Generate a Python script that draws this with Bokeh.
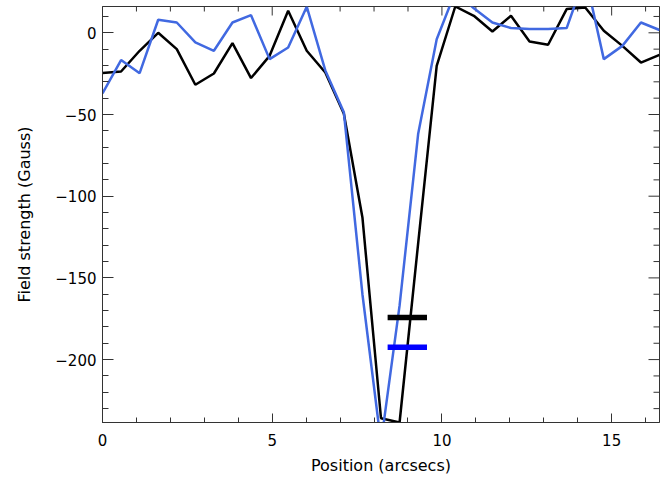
import math
from bokeh.plotting import figure
from bokeh.models import LinearAxis, SingleIntervalTicker, Range1d, ColumnDataSource
from bokeh.embed import file_html
from bokeh.resources import INLINE

# Position (arcsecs) of each sample
position = [0.0, 0.547, 1.094, 1.641, 2.188, 2.735, 3.282, 3.829, 4.376, 4.923,
            5.47, 6.017, 6.564, 7.111, 7.658, 8.205, 8.752, 9.299, 9.846, 10.393,
            10.94, 11.487, 12.034, 12.581, 13.128, 13.675, 14.222, 14.769, 15.316,
            15.863, 16.41]

# Field strength (Gauss), black profile
field_black = [-24.6, -23.7, -11.0, 0.0, -10.0, -31.8, -24.9, -6.3, -27.7, -14.1,
               13.5, -11.0, -24.3, -49.5, -113.0, -235.9, -238.5, -129.0, -20.2, 16.1,
               10.4, 0.8, 10.4, -5.3, -7.3, 14.5, 15.5, 1.2, -8.0, -18.2, -13.5]

# Field strength (Gauss), blue profile
field_blue = [-37.1, -16.7, -24.7, 8.0, 6.3, -5.9, -11.0, 6.3, 10.8, -16.1,
              -9.0, 16.0, -23.0, -48.7, -160.0, -251.0, -167.0, -62.0, -3.9, 25.0,
              15.0, 6.3, 2.9, 2.4, 2.4, 2.9, 35.0, -16.1, -8.0, 6.3, 1.7]

# Horizontal level markers
marker_x0 = [8.40, 8.40]
marker_x1 = [9.56, 9.56]
marker_y = [-174.3, -192.5]
marker_color = ["#000000", "#0000ff"]

x_min, x_max = 0.0, 16.41
y_min, y_max = -238.5, 16.1

# tick positions (for the unlabeled top / right tick marks)
x_major_ticks = [0, 5, 10, 15]
x_minor_ticks = [1, 2, 3, 4, 6, 7, 8, 9, 11, 12, 13, 14, 16]
y_major_ticks = [0, -50, -100, -150, -200]
y_minor_ticks = [10, -10, -20, -30, -40, -60, -70, -80, -90, -110, -120, -130, -140,
                 -160, -170, -180, -190, -210, -220, -230]

y_tick_labels = {0: "0", -50: "\u221250", -100: "\u2212100", -150: "\u2212150", -200: "\u2212200"}

AX = "#333333"
FONT = "DejaVu Sans"

p = figure(frame_width=557, frame_height=416,
           x_range=Range1d(x_min, x_max), y_range=Range1d(y_min, y_max),
           x_axis_type=None, y_axis_type=None,
           output_backend="svg", toolbar_location=None,
           min_border_left=102, min_border_right=6, min_border_top=6, min_border_bottom=55)
p.grid.visible = False
p.outline_line_color = AX
p.outline_line_width = 1
p.background_fill_color = "white"
p.border_fill_color = "white"


def style_axis(ax, tin, tmin):
    ax.axis_line_color = AX
    ax.major_tick_line_color = AX
    ax.minor_tick_line_color = AX
    ax.major_tick_in = tin
    ax.major_tick_out = 0
    ax.minor_tick_in = tmin
    ax.minor_tick_out = 0
    ax.major_label_text_font = FONT
    ax.major_label_text_font_size = "15px"
    ax.major_label_text_color = "black"
    ax.axis_label_text_font = FONT
    ax.axis_label_text_font_size = "16px"
    ax.axis_label_text_font_style = "normal"
    ax.axis_label_text_color = "black"


xb = LinearAxis(ticker=SingleIntervalTicker(interval=5, num_minor_ticks=5),
                axis_label="Position (arcsecs)")
style_axis(xb, 9, 5)
xb.major_label_standoff = 11
xb.axis_label_standoff = 7
p.add_layout(xb, "below")

yl = LinearAxis(ticker=SingleIntervalTicker(interval=50, num_minor_ticks=5),
                axis_label="Field strength (Gauss)")
style_axis(yl, 11, 6)
yl.major_label_overrides = y_tick_labels
yl.major_label_standoff = 6
yl.axis_label_standoff = 18
p.add_layout(yl, "left")

# unlabeled tick marks on the top and right frame edges (clipped to the frame)
p.scatter(x=[x_max] * len(y_major_ticks), y=y_major_ticks, marker="dash", size=22,
          line_color=AX, line_width=1)
p.scatter(x=[x_max] * len(y_minor_ticks), y=y_minor_ticks, marker="dash", size=12,
          line_color=AX, line_width=1)
p.scatter(x=x_major_ticks, y=[y_max] * len(x_major_ticks), marker="dash", size=18,
          angle=math.pi / 2, line_color=AX, line_width=1)
p.scatter(x=x_minor_ticks, y=[y_max] * len(x_minor_ticks), marker="dash", size=10,
          angle=math.pi / 2, line_color=AX, line_width=1)

p.line(position, field_black, line_color="#000000", line_width=2.5)
p.line(position, field_blue, line_color="#4169e1", line_width=2.5)

src = ColumnDataSource(dict(x0=marker_x0, x1=marker_x1, y=marker_y, c=marker_color))
p.segment(x0="x0", x1="x1", y0="y", y1="y", line_color="c", line_width=5.5,
          line_cap="butt", source=src)

open("out.html", "w").write(file_html(p, INLINE))
